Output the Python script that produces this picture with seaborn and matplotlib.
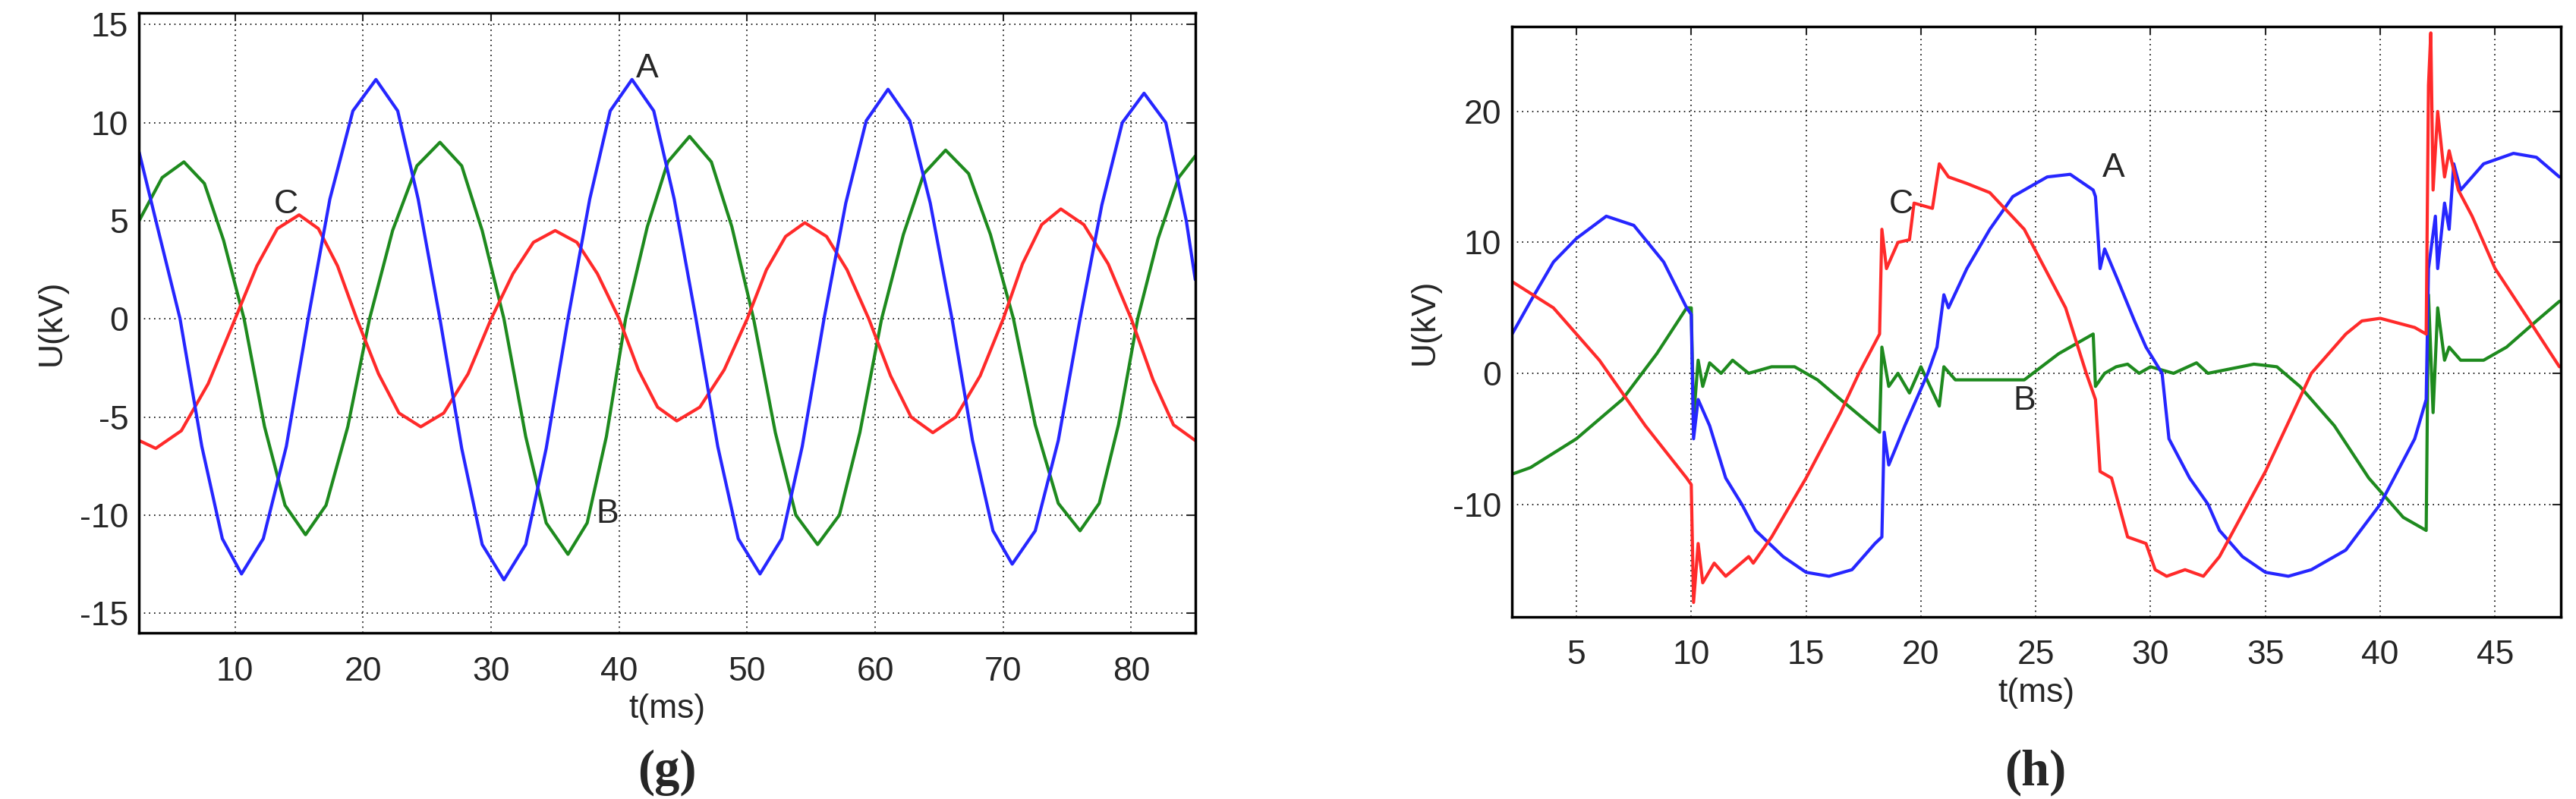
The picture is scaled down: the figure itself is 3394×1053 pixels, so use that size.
import matplotlib
matplotlib.use('Agg')
import matplotlib.pyplot as plt
import seaborn as sns
import numpy as np

sns.set_style('white')
plt.rcParams['font.family'] = ['Liberation Sans', 'DejaVu Sans']
plt.rcParams['axes.unicode_minus'] = False

BLUE = '#2626ff'
RED = '#ff2a2a'
GREEN = '#1e8a1e'

# ---- panel (g): steady state, readings
g_a_t = [2.5, 4.0, 5.7, 7.4, 9.0, 10.5, 12.2, 14.0, 15.7, 17.4, 19.2, 21, 22.7, 24.3, 26, 27.7, 29.3, 31,
         32.7, 34.3, 36, 37.7, 39.3, 41, 42.7, 44.3, 46, 47.7, 49.3, 51, 52.7, 54.3, 56, 57.7, 59.3, 61,
         62.7, 64.3, 66, 67.6, 69.2, 70.7, 72.5, 74.3, 76, 77.7, 79.3, 81, 82.7, 84.3, 85]
g_a_u = [8.5, 4.5, 0, -6.5, -11.2, -13, -11.2, -6.5, 0, 6.1, 10.6, 12.2, 10.6, 6.1, 0, -6.6, -11.5, -13.3,
         -11.5, -6.6, 0, 6.1, 10.6, 12.2, 10.6, 6.1, 0, -6.5, -11.2, -13, -11.2, -6.5, 0, 5.9, 10.1, 11.7,
         10.1, 5.9, 0, -6.2, -10.8, -12.5, -10.8, -6.2, 0, 5.8, 10, 11.5, 10, 5.0, 2]
g_b_t = [2.5, 4.3, 6, 7.6, 9.1, 10.7, 12.3, 13.9, 15.5, 17.1, 18.8, 20.5, 22.3, 24.2, 26, 27.7, 29.3, 31,
         32.7, 34.3, 36, 37.5, 39, 40.5, 42.2, 43.8, 45.5, 47.2, 48.8, 50.5, 52.2, 53.8, 55.5, 57.2, 58.8,
         60.5, 62.2, 63.8, 65.5, 67.3, 69, 70.8, 72.5, 74.3, 76, 77.5, 79, 80.5, 82.1, 83.7, 85]
g_b_u = [5, 7.2, 8, 6.9, 4, 0, -5.5, -9.5, -11, -9.5, -5.5, 0, 4.5, 7.8, 9, 7.8, 4.5, 0,
         -6, -10.4, -12, -10.4, -6, 0, 4.7, 8, 9.3, 8, 4.7, 0, -5.8, -10, -11.5, -10, -5.8,
         0, 4.3, 7.4, 8.6, 7.4, 4.3, 0, -5.4, -9.4, -10.8, -9.4, -5.4, 0, 4.1, 7.2, 8.3]
g_c_t = [2.5, 3.8, 5.8, 7.9, 10, 11.7, 13.3, 15, 16.5, 18, 19.5, 21.2, 22.8, 24.5, 26.3, 28.2, 30, 31.7,
         33.3, 35, 36.7, 38.3, 40, 41.5, 43, 44.5, 46.3, 48.2, 50, 51.5, 53, 54.5, 56.2, 57.8, 59.5, 61.2,
         62.8, 64.5, 66.3, 68.2, 70, 71.5, 73, 74.5, 76.3, 78.2, 80, 81.7, 83.3, 85]
g_c_u = [-6.2, -6.6, -5.7, -3.3, 0, 2.7, 4.6, 5.3, 4.6, 2.7, 0, -2.8, -4.8, -5.5, -4.8, -2.8, 0, 2.3,
         3.9, 4.5, 3.9, 2.3, 0, -2.6, -4.5, -5.2, -4.5, -2.6, 0, 2.5, 4.2, 4.9, 4.2, 2.5, 0, -2.9,
         -5, -5.8, -5, -2.9, 0, 2.8, 4.8, 5.6, 4.8, 2.8, 0, -3.1, -5.4, -6.2]

# ---- panel (h): fault transient
h_a_t = [2.2, 3, 4, 5, 6.3, 7.5, 8.8, 9.8, 10.0, 10.1, 10.3, 10.8, 11.5, 12.2, 12.8, 14, 15, 16, 17, 18,
         18.3, 18.4, 18.6, 19.3, 19.8, 20.3, 20.7, 21, 21.2, 22, 23, 24, 25.5, 26.5, 27.5, 27.6, 27.8, 28,
         28.6, 29.3, 29.8, 30.5, 30.8, 31.7, 32.5, 33, 34, 35, 36, 37, 38.5, 40, 41.5, 42, 42.1, 42.4,
         42.5, 42.8, 43, 43.2, 43.5, 44.5, 45.8, 46.8, 47.8]
h_a_u = [3, 5.5, 8.5, 10.3, 12, 11.3, 8.5, 5, 4.5, -5, -2, -4, -8, -10, -12, -14, -15.2, -15.5, -15, -13,
         -12.5, -4.5, -7, -4, -2, 0, 2, 6, 5, 8, 11, 13.5, 15, 15.2, 14, 13.5, 8, 9.5,
         7, 4, 2, 0, -5, -8, -10, -12, -14, -15.2, -15.5, -15, -13.5, -10, -5, -2, 8, 12,
         8, 13, 11, 16, 14, 16, 16.8, 16.5, 15]
h_c_t = [2.2, 4, 6, 7, 8, 9.8, 10.0, 10.1, 10.3, 10.5, 11, 11.5, 12.5, 12.7, 13.5, 15, 16.5, 17.3, 18.2,
         18.3, 18.5, 19, 19.5, 19.7, 20.5, 20.8, 21.2, 22, 23, 24.5, 26.3, 27.2, 27.6, 27.8, 28.3, 29, 29.8,
         30.2, 30.7, 31.5, 32.3, 33, 35, 37, 38.5, 39.2, 40, 41.5, 42, 42.1, 42.2, 42.3, 42.5, 42.8, 43,
         43.4, 44, 45, 46.5, 47.8]
h_c_u = [7, 5, 1, -1.5, -4, -8, -8.5, -17.5, -13, -16, -14.5, -15.5, -14, -14.5, -12.5, -8, -3, 0, 3,
         11, 8, 10, 10.2, 13, 12.6, 16, 15, 14.5, 13.8, 11, 5, 0, -2, -7.5, -8, -12.5, -13,
         -15, -15.5, -15, -15.5, -14, -7.5, 0, 3, 4, 4.2, 3.5, 3, 22, 26, 14, 20, 15, 17,
         14, 12, 8, 4, 0.5]
h_b_t = [2.2, 3, 5, 7, 8.5, 9.8, 10.0, 10.1, 10.3, 10.5, 10.8, 11.3, 11.8, 12.5, 13.5, 14.5, 15.5, 16.5,
         18.2, 18.3, 18.6, 19, 19.5, 20, 20.8, 21, 21.5, 23, 23.3, 24.3, 24.5, 26, 27.5, 27.6, 28, 28.5, 29,
         29.5, 30, 31, 32, 32.5, 34.5, 35.5, 36.5, 38, 39.5, 41, 42, 42.1, 42.3, 42.5, 42.8, 43, 43.5,
         44.5, 45.5, 46.8, 47.8]
h_b_u = [-7.7, -7.2, -5, -2, 1.5, 5, 5, -3.5, 1, -1, 0.8, 0, 1, 0, 0.5, 0.5, -0.5, -2,
         -4.5, 2, -1, 0, -1.5, 0.5, -2.5, 0.5, -0.5, -0.5, np.nan, np.nan, -0.5, 1.5, 3, -1, 0, 0.5, 0.7,
         0, 0.5, 0, 0.8, 0, 0.7, 0.5, -1, -4, -8, -11, -12, 6, -3, 5, 1, 2, 1,
         1, 2, 4, 5.5]

fig = plt.figure(figsize=(33.94, 10.53), dpi=100)
ax1 = fig.add_axes([0.054, 0.208, 0.410, 0.776])
ax2 = fig.add_axes([0.587, 0.228, 0.407, 0.739])

def draw(ax, series):
    for t, u, c in series:
        sns.lineplot(x=t, y=u, ax=ax, color=c, linewidth=3, sort=False, estimator=None)

draw(ax1, [(g_b_t, g_b_u, GREEN), (g_c_t, g_c_u, RED), (g_a_t, g_a_u, BLUE)])
draw(ax2, [(h_b_t, h_b_u, GREEN), (h_a_t, h_a_u, BLUE), (h_c_t, h_c_u, RED)])

def style(ax, xlim, ylim, xt, yt):
    ax.set_xlim(*xlim)
    ax.set_ylim(*ylim)
    ax.set_xticks(xt)
    ax.set_yticks(yt)
    ax.grid(True, linestyle=(0, (1, 3)), color='black', linewidth=1.2)
    ax.tick_params(direction='in', top=True, right=True, length=8, width=1.5, labelsize=32, pad=10)
    ax.tick_params(axis='x', pad=22)
    for s in ax.spines.values():
        s.set_color('black')
        s.set_linewidth(2.5)
    ax.set_xlabel('t(ms)', fontsize=32, labelpad=6)
    ax.set_ylabel('U(kV)', fontsize=32, labelpad=12)

style(ax1, (2.5, 85), (-16, 15.6), [10, 20, 30, 40, 50, 60, 70, 80], [-15, -10, -5, 0, 5, 10, 15])
style(ax2, (2.2, 47.85), (-18.6, 26.5), [5, 10, 15, 20, 25, 30, 35, 40, 45], [-10, 0, 10, 20])

ax1.text(41.3, 12.3, 'A', fontsize=32)
ax1.text(38.2, -10.4, 'B', fontsize=32)
ax1.text(13.0, 5.4, 'C', fontsize=32)
ax2.text(27.9, 15.0, 'A', fontsize=32)
ax2.text(24.0, -2.8, 'B', fontsize=32)
ax2.text(18.6, 12.2, 'C', fontsize=32)

fig.text(0.259, 0.018, '(g)', fontsize=48, fontweight='bold', ha='center', family='Liberation Serif')
fig.text(0.79, 0.018, '(h)', fontsize=48, fontweight='bold', ha='center', family='Liberation Serif')

fig.savefig('out.png', dpi=100)
